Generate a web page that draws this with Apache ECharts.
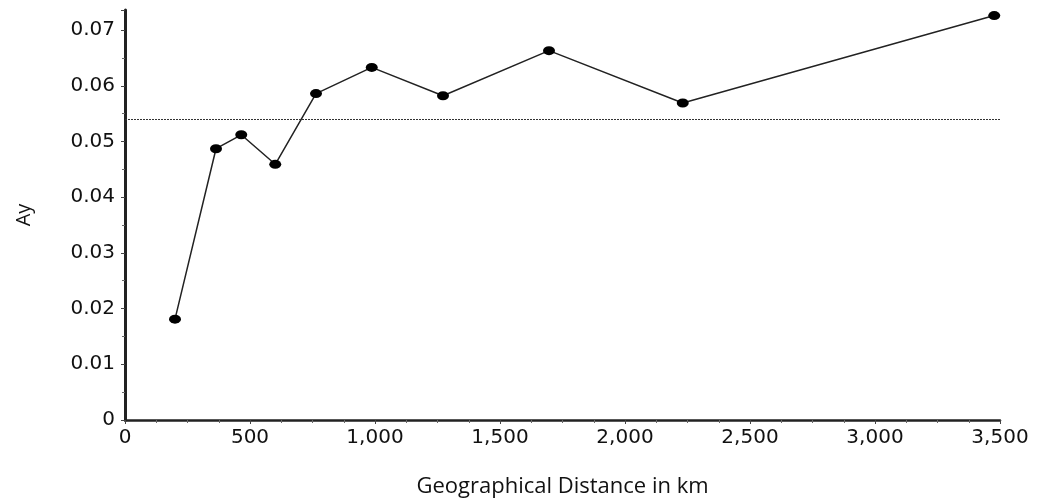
<!DOCTYPE html>
<html>
<head>
<meta charset="utf-8">
<script src="https://cdn.jsdelivr.net/npm/echarts@6/dist/echarts.min.js"></script>
<style>
  html, body { margin: 0; padding: 0; background: #fff; }
  #chart { width: 1053px; height: 500px; }
</style>
</head>
<body>
<div id="chart"></div>
<script>
// distance (km) and Ay values
var distances = [200, 364, 465, 601, 764, 987, 1272, 1696, 2231, 3477]
var ayValues = [0.0181, 0.0487, 0.0512, 0.0459, 0.0586, 0.0633, 0.0582, 0.0663, 0.0569, 0.0726]
var meanLine = 0.054

var points = distances.map(function (d, i) { return [d, ayValues[i]] })

var chart = echarts.init(document.getElementById('chart'))
chart.setOption({
  animation: false,
  grid: {
    left: 125,
    right: 53,
    top: 10,
    bottom: 80,
    outerBoundsMode: 'none'
  },
  xAxis: {
    type: 'value',
    min: 0,
    max: 3500,
    interval: 500,
    name: 'Geographical Distance in km',
    nameLocation: 'middle',
    nameGap: 56,
    nameTextStyle: { fontFamily: 'Open Sans', fontSize: 22, color: '#111' },
    splitLine: { show: false },
    axisLine: { lineStyle: { color: '#222', width: 2.5 } },
    axisTick: { length: 4, lineStyle: { color: '#444' } },
    minorTick: { show: true, splitNumber: 4, length: 3, lineStyle: { color: '#666' } },
    axisLabel: {
      fontFamily: 'DejaVu Sans',
      fontSize: 20,
      color: '#111',
      margin: 8,
      formatter: function (v) { return v.toLocaleString('en-US') }
    }
  },
  yAxis: {
    type: 'value',
    min: 0,
    max: 0.0736,
    interval: 0.01,
    name: 'Ay',
    nameLocation: 'middle',
    nameGap: 91,
    nameRotate: 90,
    nameTextStyle: { fontFamily: 'Open Sans', fontSize: 20, color: '#111' },
    splitLine: { show: false },
    axisLine: { lineStyle: { color: '#222', width: 3 } },
    axisTick: { length: 4, lineStyle: { color: '#444' } },
    minorTick: { show: true, splitNumber: 2, length: 3, lineStyle: { color: '#666' } },
    axisLabel: {
      fontFamily: 'DejaVu Sans',
      fontSize: 20,
      color: '#111',
      margin: 10,
      showMaxLabel: false,
      formatter: function (v) { return v === 0 ? '0' : v.toFixed(2) }
    }
  },
  series: [
    {
      type: 'line',
      data: points,
      symbol: 'circle',
      symbolSize: [12, 9],
      itemStyle: { color: '#000' },
      lineStyle: { color: '#222', width: 1.5 },
      markLine: {
        silent: true,
        symbol: 'none',
        precision: 4,
        label: { show: false },
        lineStyle: { color: '#333', type: [2, 1], width: 1 },
        data: [{ yAxis: meanLine }]
      }
    }
  ]
})
</script>
</body>
</html>
